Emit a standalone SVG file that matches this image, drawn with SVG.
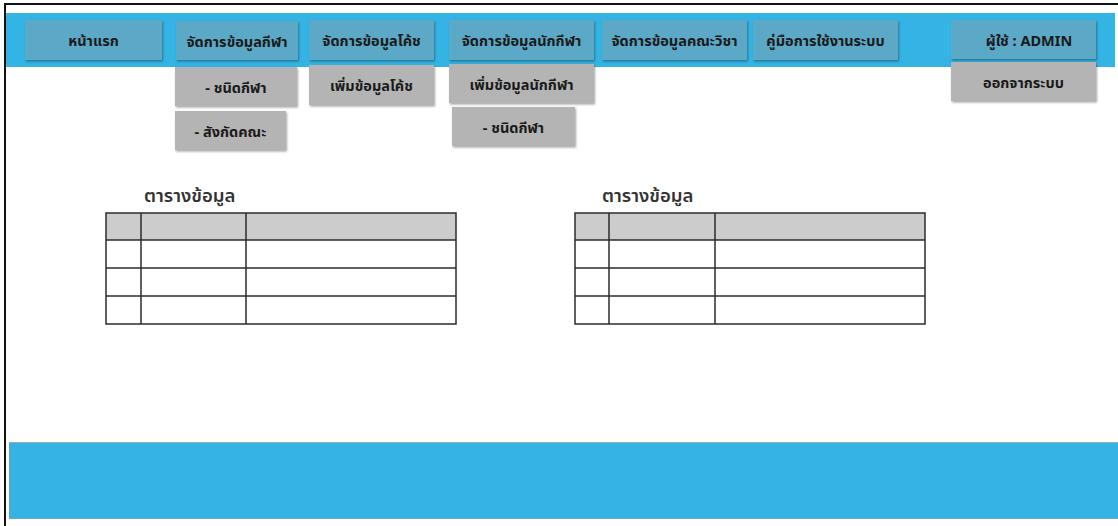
<svg xmlns="http://www.w3.org/2000/svg" width="1118" height="526" viewBox="0 0 1118 526">
<defs>
<filter id="sh" x="-5%" y="-10%" width="115%" height="130%">
<feDropShadow dx="1" dy="1.5" stdDeviation="0.8" flood-color="#000" flood-opacity="0.35"/>
</filter>
<style>
.nav{fill:#5BA8C7;filter:url(#sh)}
.dd{fill:#B4B4B4;filter:url(#sh)}
.lbl{font-family:"Noto Sans","Noto Sans Thai","DejaVu Sans",sans-serif;font-size:14.5px;font-weight:bold;fill:#1a1a1a;text-anchor:middle;dominant-baseline:central}
.title{font-family:"Noto Sans","Noto Sans Thai","DejaVu Sans",sans-serif;font-size:18.5px;font-weight:600;fill:#333}
.tl{stroke:#2b2b2b;stroke-width:1.5;fill:none}
.hdr{fill:#CCCCCC}
</style>
</defs>
<rect x="0" y="0" width="1118" height="526" fill="#fff"/>
<g id="frame">
<line x1="5" y1="4" x2="1118" y2="4" stroke="#111" stroke-width="2"/>
<line x1="5" y1="3" x2="5" y2="526" stroke="#111" stroke-width="2"/>
</g>
<g id="topbar"><rect x="6" y="13" width="1109" height="54" fill="#33B4E4"/></g>
<g id="footer">
<rect x="9" y="442" width="1109" height="77" fill="#33B4E4"/>
<line x1="9" y1="442.5" x2="1118" y2="442.5" stroke="#9AAAB4" stroke-width="1"/>
<line x1="9" y1="518.5" x2="1118" y2="518.5" stroke="#6FA9C4" stroke-width="1"/>
</g>
<g id="nav-home"><rect class="nav" x="25" y="20" width="137" height="40"/><text class="lbl" x="93.5" y="40">หน้าแรก</text></g>
<g id="nav-sport"><rect class="nav" x="176" y="21" width="122" height="39"/><text class="lbl" x="237" y="41">จัดการข้อมูลกีฬา</text></g>
<g id="nav-coach"><rect class="nav" x="309" y="20" width="125" height="40"/><text class="lbl" x="371.5" y="40">จัดการข้อมูลโค้ช</text></g>
<g id="nav-athlete"><rect class="nav" x="449" y="20" width="145" height="40"/><text class="lbl" x="521.5" y="40">จัดการข้อมูลนักกีฬา</text></g>
<g id="nav-faculty"><rect class="nav" x="602" y="20" width="145" height="40"/><text class="lbl" x="674.5" y="40">จัดการข้อมูลคณะวิชา</text></g>
<g id="nav-manual"><rect class="nav" x="753" y="20" width="145" height="40"/><text class="lbl" x="825.5" y="40">คู่มือการใช้งานระบบ</text></g>
<g id="nav-user"><rect class="nav" x="951" y="20" width="145" height="39"/><text class="lbl" x="1029" y="40">ผู้ใช้ : ADMIN</text></g>
<g id="dd-sport-type"><rect class="dd" x="175" y="67" width="122" height="39"/><text class="lbl" x="236" y="87">- ชนิดกีฬา</text></g>
<g id="dd-faculty"><rect class="dd" x="175" y="111" width="111" height="39"/><text class="lbl" x="230.5" y="131">- สังกัดคณะ</text></g>
<g id="dd-add-coach"><rect class="dd" x="309" y="65" width="125" height="40"/><text class="lbl" x="371.5" y="85">เพิ่มข้อมูลโค้ช</text></g>
<g id="dd-add-athlete"><rect class="dd" x="449" y="64" width="145" height="39"/><text class="lbl" x="521.5" y="84">เพิ่มข้อมูลนักกีฬา</text></g>
<g id="dd-athlete-type"><rect class="dd" x="452" y="107" width="123" height="39"/><text class="lbl" x="513.5" y="127">- ชนิดกีฬา</text></g>
<g id="dd-logout"><rect class="dd" x="951" y="62" width="145" height="39"/><text class="lbl" x="1023.5" y="82">ออกจากระบบ</text></g>
<g id="table1">
<text class="title" x="144" y="202">ตารางข้อมูล</text>
<rect class="hdr" x="106" y="213" width="350" height="27"/>
<rect class="tl" x="106" y="213" width="350" height="111"/>
<line class="tl" x1="106" y1="240" x2="456" y2="240" stroke-width="2"/>
<line class="tl" x1="106" y1="268" x2="456" y2="268"/>
<line class="tl" x1="106" y1="296" x2="456" y2="296"/>
<line class="tl" x1="141" y1="213" x2="141" y2="324"/>
<line class="tl" x1="246" y1="213" x2="246" y2="324"/>
</g>
<g id="table2">
<text class="title" x="602" y="202">ตารางข้อมูล</text>
<rect class="hdr" x="575" y="213" width="350" height="27"/>
<rect class="tl" x="575" y="213" width="350" height="111"/>
<line class="tl" x1="575" y1="240" x2="925" y2="240" stroke-width="2"/>
<line class="tl" x1="575" y1="268" x2="925" y2="268"/>
<line class="tl" x1="575" y1="296" x2="925" y2="296"/>
<line class="tl" x1="609" y1="213" x2="609" y2="324"/>
<line class="tl" x1="715" y1="213" x2="715" y2="324"/>
</g>
</svg>
